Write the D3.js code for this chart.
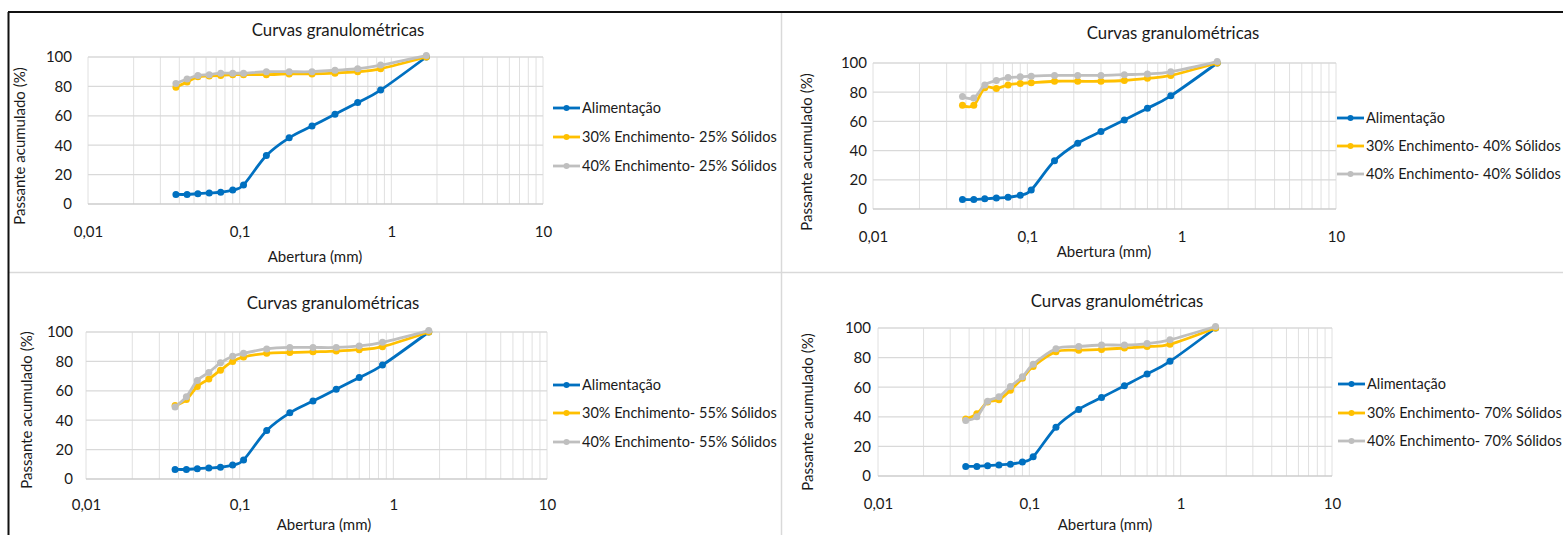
<!DOCTYPE html>
<html><head><meta charset="utf-8">
<script src="https://cdn.jsdelivr.net/npm/d3@7"></script>
<style>
html,body{margin:0;padding:0;background:#fff;}
svg{display:block;font-family:Lato,"Open Sans",sans-serif;}
</style></head><body>
<svg id="c" width="1563" height="535"></svg>
<script>
// ---- data ----
const aberturas = [0.038, 0.045, 0.053, 0.063, 0.075, 0.09, 0.106, 0.15, 0.212, 0.3, 0.425, 0.6, 0.85, 1.7];
const alimentacao = [6.5, 6.5, 7, 7.5, 8, 9.5, 13, 33, 45, 53, 61, 69, 77.5, 100];
const enc30_25 = [79.5, 83, 86.5, 87, 87.5, 88, 88, 88, 88.5, 88.5, 89, 90, 92, 100];
const enc40_25 = [82, 85, 87.5, 88, 89, 89, 89, 90, 90, 90, 91, 92, 94.5, 101];
const enc30_40 = [71, 71, 83, 82.5, 85, 86, 86.5, 87.5, 87.5, 87.5, 88, 89.5, 91.5, 100];
const enc40_40 = [77, 76, 85, 88, 90, 90.5, 91, 91.5, 91.5, 91.5, 92, 92.5, 94, 101];
const enc30_55 = [50, 54, 63, 68, 74, 80, 83, 85.5, 86, 86.5, 87, 88, 90, 100];
const enc40_55 = [49, 56, 67, 72.5, 79, 83.5, 85.5, 88.5, 89.5, 89.5, 89.5, 90.5, 93, 101];
const enc30_70 = [38.5, 42, 50, 51.5, 58, 66, 74, 84, 85, 85.5, 86.5, 87.5, 89, 100];
const enc40_70 = [37.5, 40, 50.5, 53.5, 60.5, 67, 75.5, 86, 87.5, 88.5, 88.5, 89.5, 92, 101];
const xTickValues = [0.01, 0.1, 1, 10];
const xTickLabels = ["0,01", "0,1", "1", "10"];
const yTickValues = [0, 20, 40, 60, 80, 100];
const chartTitle = "Curvas granulométricas";
const xTitle = "Abertura (mm)";
const yTitle = "Passante acumulado (%)";
const seriesNames = [
  ["Alimentação", "30% Enchimento- 25% Sólidos", "40% Enchimento- 25% Sólidos"],
  ["Alimentação", "30% Enchimento- 40% Sólidos", "40% Enchimento- 40% Sólidos"],
  ["Alimentação", "30% Enchimento- 55% Sólidos", "40% Enchimento- 55% Sólidos"],
  ["Alimentação", "30% Enchimento- 70% Sólidos", "40% Enchimento- 70% Sólidos"]
];
const panelSeries = [
  [alimentacao, enc30_25, enc40_25],
  [alimentacao, enc30_40, enc40_40],
  [alimentacao, enc30_55, enc40_55],
  [alimentacao, enc30_70, enc40_70]
];
const colors = ["#0070C0", "#FFC000", "#BFBFBF"];

// ---- layout ----
const panels = [
  {x0:88, x1:543, yT:57, yB:204, title:[338,30], xlab:232, xt:[315,257], yt:[20,146], ytGap:16, leg:{x:553, rows:[108,137,166]}},
  {x0:873, x1:1336, yT:63, yB:209, title:[1173,33], xlab:237, xt:[1104,252], yt:[807,152], ytGap:6, leg:{x:1337, rows:[118,146,174]}},
  {x0:86, x1:547, yT:332, yB:479, title:[333,303], xlab:505, xt:[324,525], yt:[27,410], ytGap:13, leg:{x:553, rows:[385,413,442]}},
  {x0:878, x1:1332, yT:328, yB:476, title:[1117,301], xlab:504, xt:[1105,525], yt:[808,412], ytGap:7, leg:{x:1338, rows:[384,413,441]}}
];

const svg = d3.select("#c");
const ink = "#1a1a1a";

// frame lines
svg.append("line").attr("x1",781.5).attr("x2",781.5).attr("y1",12).attr("y2",535).attr("stroke","#d9d9d9").attr("stroke-width",1.5);
svg.append("line").attr("x1",8).attr("x2",1563).attr("y1",272.5).attr("y2",272.5).attr("stroke","#d9d9d9").attr("stroke-width",1.5);
svg.append("line").attr("x1",8).attr("x2",1563).attr("y1",12).attr("y2",12).attr("stroke","#111").attr("stroke-width",2);
svg.append("line").attr("x1",8.5).attr("x2",8.5).attr("y1",12).attr("y2",535).attr("stroke","#111").attr("stroke-width",2);

panels.forEach((p, pi) => {
  const g = svg.append("g");
  const x = d3.scaleLog().domain([0.01, 10]).range([p.x0, p.x1]);
  const y = d3.scaleLinear().domain([0, 100]).range([p.yB, p.yT]);

  // vertical grid (log minor + major)
  const vgrid = x.ticks();
  g.append("g").selectAll("line").data(vgrid).join("line")
    .attr("x1", d => x(d)).attr("x2", d => x(d))
    .attr("y1", p.yT).attr("y2", p.yB)
    .attr("stroke", "#e0e0e0").attr("stroke-width", 1);
  // horizontal grid
  g.append("g").selectAll("line").data(yTickValues).join("line")
    .attr("x1", p.x0).attr("x2", p.x1)
    .attr("y1", d => y(d)).attr("y2", d => y(d))
    .attr("stroke", d => d === 0 ? "#cccccc" : "#d9d9d9").attr("stroke-width", 1.3);

  // x axis labels
  const xAxis = d3.axisBottom(x).tickValues(xTickValues).tickFormat((d,i) => xTickLabels[i]).tickSize(0).tickPadding(0);
  const xa = g.append("g").attr("transform", `translate(0,${p.xlab})`).call(xAxis);
  xa.select(".domain").remove();
  xa.selectAll("text").attr("dy", "0.35em").attr("font-size", 15).attr("fill", ink).attr("font-family", "Lato, sans-serif");

  // y axis labels
  const yAxis = d3.axisLeft(y).tickValues(yTickValues).tickSize(0).tickPadding(p.ytGap);
  const ya = g.append("g").attr("transform", `translate(${p.x0},0)`).call(yAxis);
  ya.select(".domain").remove();
  ya.selectAll("text").attr("font-size", 15).attr("fill", ink).attr("font-family", "Lato, sans-serif");

  // titles
  g.append("text").attr("x", p.title[0]).attr("y", p.title[1]).attr("dy", "0.35em")
    .attr("text-anchor", "middle").attr("font-size", 16.8).attr("fill", ink).text(chartTitle);
  g.append("text").attr("x", p.xt[0]).attr("y", p.xt[1]).attr("dy", "0.35em")
    .attr("text-anchor", "middle").attr("font-size", 15).attr("fill", ink).text(xTitle);
  g.append("text").attr("transform", `translate(${p.yt[0]},${p.yt[1]}) rotate(-90)`).attr("dy", "0.35em")
    .attr("text-anchor", "middle").attr("font-size", 15).attr("fill", ink).text(yTitle);

  // series
  const line = d3.line().x(d => x(d[0])).y(d => y(d[1])).curve(d3.curveCatmullRom.alpha(0));
  panelSeries[pi].forEach((vals, si) => {
    const pts = aberturas.map((a, i) => [a, vals[i]]);
    g.append("path").datum(pts).attr("d", line).attr("fill", "none")
      .attr("stroke", colors[si]).attr("stroke-width", 2.8);
    g.append("g").selectAll("circle").data(pts).join("circle")
      .attr("cx", d => x(d[0])).attr("cy", d => y(d[1])).attr("r", 3.5)
      .attr("fill", colors[si]);
  });

  // legend
  seriesNames[pi].forEach((name, si) => {
    const ry = p.leg.rows[si];
    g.append("line").attr("x1", p.leg.x).attr("x2", p.leg.x + 27).attr("y1", ry).attr("y2", ry)
      .attr("stroke", colors[si]).attr("stroke-width", 2.8);
    g.append("circle").attr("cx", p.leg.x + 13.5).attr("cy", ry).attr("r", 3).attr("fill", colors[si]);
    g.append("text").attr("x", p.leg.x + 29).attr("y", ry).attr("dy", "0.35em")
      .attr("font-size", 14.5).attr("fill", ink).text(name);
  });
});
</script>
</body></html>
